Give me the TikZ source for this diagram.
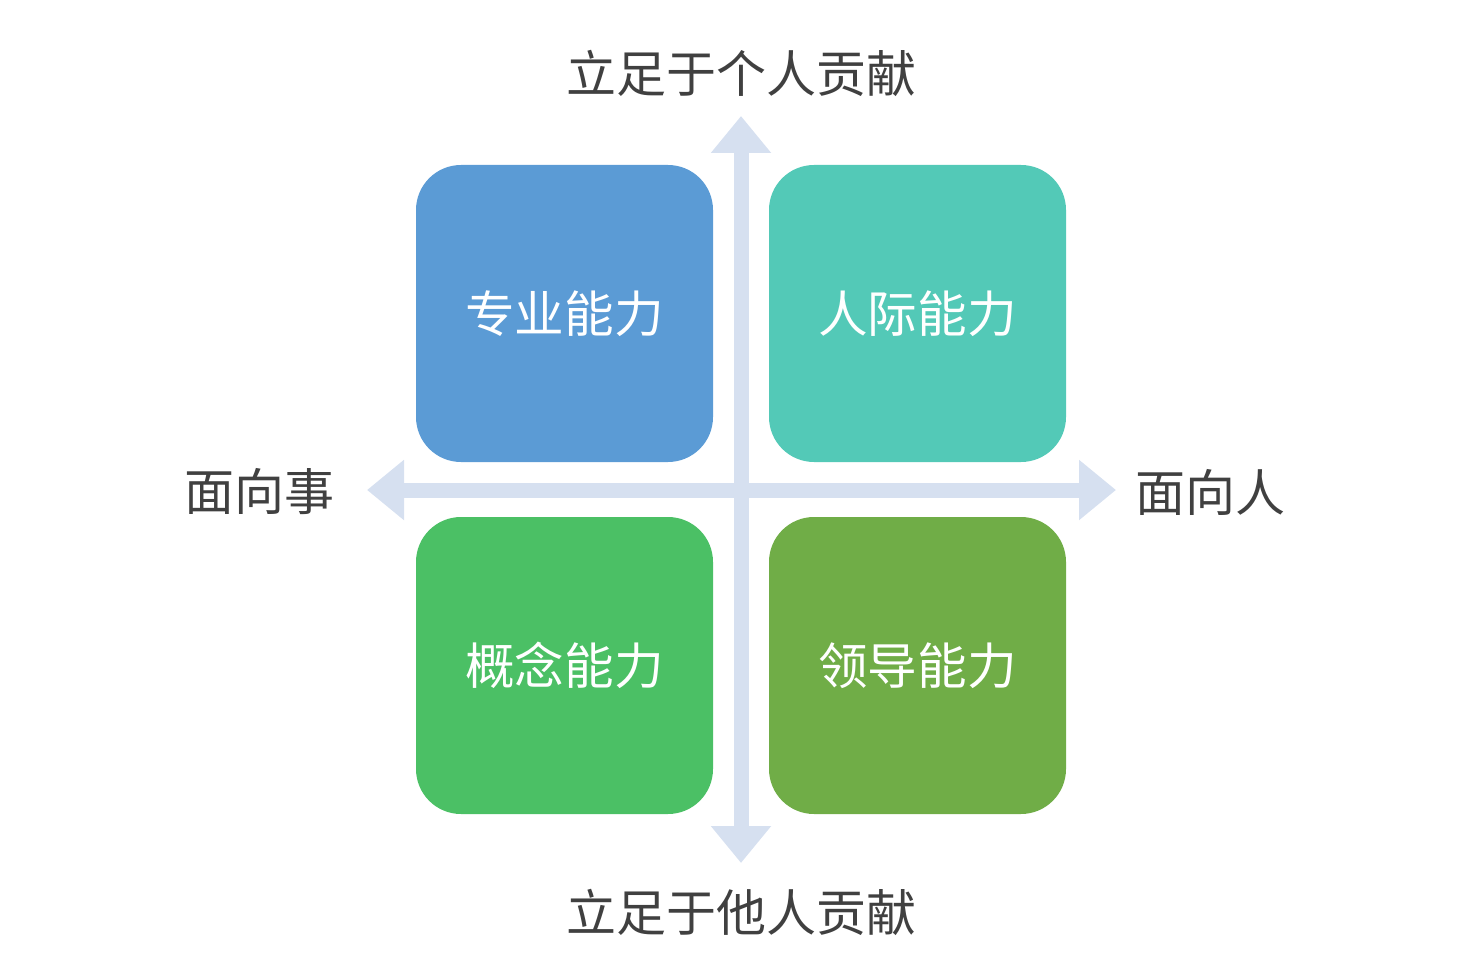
\documentclass[tikz,border=0pt]{standalone}
\usepackage{fontspec}
\newfontfamily\cjk{Noto Sans CJK SC}
\usetikzlibrary{arrows.meta}
\definecolor{axisblue}{RGB}{214,224,240}
\definecolor{textgray}{RGB}{64,64,64}
\definecolor{skillA}{RGB}{91,155,213}
\definecolor{skillB}{RGB}{83,201,183}
\definecolor{skillC}{RGB}{75,192,101}
\definecolor{skillD}{RGB}{112,173,71}
\begin{document}
\begin{tikzpicture}[x=0.75pt, y=-0.75pt,
    axis/.style={line width=11.25pt, draw=axisblue,
      {Triangle[width=43.5pt, length=27.75pt]}-{Triangle[width=43.5pt, length=27.75pt]}},
    skillbox/.style={rounded corners=33.75pt, minimum width=222.75pt, minimum height=222.75pt,
      inner sep=0pt, text=white, font=\cjk\fontsize{37.2pt}{40pt}\selectfont},
    axislabel/.style={text=textgray, inner sep=0pt, font=\cjk\fontsize{37.5pt}{42pt}\selectfont}]
  \useasboundingbox (0,0) rectangle (1483,980);
  % Axis end points
  \coordinate (up) at (741,116);
  \coordinate (down) at (741,863);
  \coordinate (left) at (367,490);
  \coordinate (right) at (1116,490);
  % Two axes with arrows at both ends
  \draw[axis] (down) -- (up);
  \draw[axis] (left) -- (right);
  % Four quadrant boxes
  \foreach \name/\x/\y/\col/\txt in {pro/564.5/313.5/skillA/专业能力, inter/917.5/313.5/skillB/人际能力,
      concept/564.5/665.5/skillC/概念能力, lead/917.5/665.5/skillD/领导能力}{
    \node[skillbox, fill=\col] (\name) at (\x,\y) {\txt};
  }
  % Axis labels
  \node[axislabel] (self) at (741,73) {立足于个人贡献};
  \node[axislabel] (others) at (741,912) {立足于他人贡献};
  \node[axislabel] (things) at (259,492) {面向事};
  \node[axislabel] (people) at (1210,492) {面向人};
\end{tikzpicture}
\end{document}
